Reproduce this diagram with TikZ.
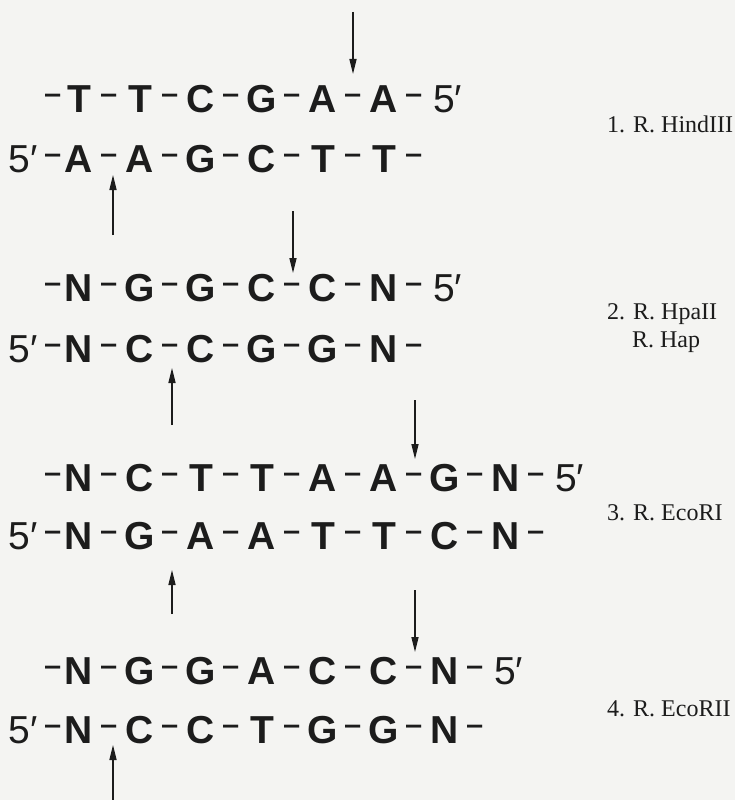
\documentclass[tikz,border=0pt]{standalone}
\usepackage{fontspec}
\setmainfont{Liberation Serif}
\newfontfamily\seqfont{Liberation Sans}
\usetikzlibrary{arrows.meta}
\definecolor{paper}{RGB}{244,244,242}
\definecolor{ink}{RGB}{28,28,28}
\tikzset{
  letter/.style={anchor=base,inner sep=0pt,text=ink,font=\seqfont\fontsize{39}{40}\selectfont\bfseries},
  dashn/.style={anchor=base,inner sep=0pt,text=ink,font=\seqfont\fontsize{39}{40}\selectfont},
  prime/.style={inner sep=0pt,text=ink,font=\seqfont\fontsize{39}{40}\selectfont},
  enzyme/.style={inner sep=0pt,text=ink,font=\fontsize{24}{28}\selectfont},
  cut/.style={draw=ink,line width=1.5pt,-{Triangle[length=15pt,width=7pt]}}
}
\newcommand\dsh{\raisebox{5.5pt}{\scalebox{0.7}[1.1]{–}}}
\newcommand\topstrand[3]{%
  \node[dashn] (#1d) at (53,#2) {\dsh};
  \foreach \L [count=\i from 0] in {#3} {
    \node[letter] (#1\i) at ({79+61*\i},#2) {\L};
    \node[dashn] (#1s\i) at ({109.5+61*\i},#2) {\dsh};
    \xdef\lastI{\i}
  }
  \node[prime,anchor=base west] (#1p) at ({79+61*\lastI+49},#2) {5′};
}
\newcommand\botstrand[3]{%
  \node[prime,anchor=base east] (#1p) at (38,#2) {5′};
  \node[dashn] (#1d) at (53,#2) {\dsh};
  \foreach \L [count=\i from 0] in {#3} {
    \node[letter] (#1\i) at ({79+61*\i},#2) {\L};
    \node[dashn] (#1s\i) at ({109.5+61*\i},#2) {\dsh};
  }
}
\begin{document}
\begin{tikzpicture}[x=1pt,y=-1pt]
\fill[paper] (0,0) rectangle (735,800);
\useasboundingbox (0,0) rectangle (735,800);

% 1. HindIII
\topstrand{aT}{112}{T,T,C,G,A,A}
\botstrand{aB}{172}{A,A,G,C,T,T}
\node[enzyme,anchor=base west] (l1) at (607,132) {1. R. HindIII};
\coordinate (c1a) at (353,12);  \coordinate (c1b) at (353,74);
\coordinate (c1c) at (113,235); \coordinate (c1d) at (113,175);
\draw[cut] (c1a) -- (c1b);
\draw[cut] (c1c) -- (c1d);

% 2. HpaII
\topstrand{bT}{301}{N,G,G,C,C,N}
\botstrand{bB}{362}{N,C,C,G,G,N}
\node[enzyme,anchor=base west] (l2a) at (607,319) {2. R. HpaII};
\node[enzyme,anchor=base] (l2b) at (666,347) {R. Hap};
\coordinate (c2a) at (293,211); \coordinate (c2b) at (293,273);
\coordinate (c2c) at (172,425); \coordinate (c2d) at (172,368);
\draw[cut] (c2a) -- (c2b);
\draw[cut] (c2c) -- (c2d);

% 3. EcoRI
\topstrand{cT}{491}{N,C,T,T,A,A,G,N}
\botstrand{cB}{549}{N,G,A,A,T,T,C,N}
\node[enzyme,anchor=base west] (l3) at (607,520) {3. R. EcoRI};
\coordinate (c3a) at (415,400); \coordinate (c3b) at (415,459);
\coordinate (c3c) at (172,614); \coordinate (c3d) at (172,570);
\draw[cut] (c3a) -- (c3b);
\draw[cut] (c3c) -- (c3d);

% 4. EcoRII
\topstrand{dT}{684}{N,G,G,A,C,C,N}
\botstrand{dB}{743}{N,C,C,T,G,G,N}
\node[enzyme,anchor=base west] (l4) at (607,716) {4. R. EcoRII};
\coordinate (c4a) at (415,590); \coordinate (c4b) at (415,652);
\coordinate (c4c) at (113,800); \coordinate (c4d) at (113,745);
\draw[cut] (c4a) -- (c4b);
\draw[cut] (c4c) -- (c4d);
\end{tikzpicture}
\end{document}
